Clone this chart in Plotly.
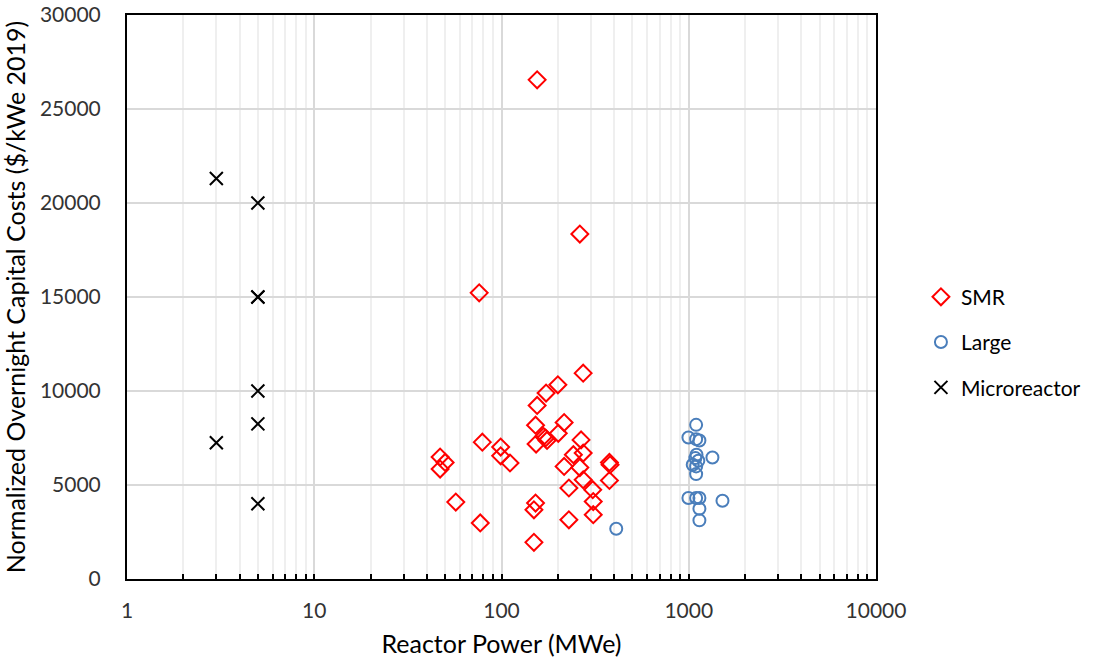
import plotly.graph_objects as go

# SMR data (MWe, $/kWe 2019)
smr_x = [155, 262, 76, 273, 200, 173, 155, 152, 216, 201, 168, 172, 175, 153,
         266, 242, 273, 216, 262, 273, 377, 380, 377, 229, 307, 309, 309, 229,
         152, 149, 149, 77, 57, 79, 99, 99, 111, 47, 50, 47]
smr_y = [26550, 18350, 15220, 10950, 10330, 9890, 9230, 8180, 8320, 7750, 7580,
         7500, 7370, 7180, 7400, 6610, 6700, 5990, 5930, 5280, 6200, 6080, 5240,
         4840, 4750, 4120, 3420, 3150, 4040, 3680, 1950, 2980, 4090, 7280, 7020,
         6550, 6170, 6490, 6200, 5850]

# Large reactors
large_x = [1095, 996, 1095, 1140, 1100, 1338, 1085, 1125, 1050, 1095, 1095,
           996, 1095, 1140, 1514, 1140, 1140, 410]
large_y = [8200, 7530, 7440, 7370, 6610, 6460, 6430, 6290, 6080, 5990, 5580,
           4310, 4310, 4310, 4160, 3740, 3120, 2670]

# Microreactors
micro_x = [3, 5, 5, 5, 5, 5, 3, 5]
micro_y = [21300, 20000, 15000, 15000, 10000, 8250, 7250, 4000]

x_ticks = [1, 10, 100, 1000, 10000]
y_ticks = [0, 5000, 10000, 15000, 20000, 25000, 30000]
minor_x = [m * 10 ** k for k in range(4) for m in range(2, 10)]

FONT = "Lato"
TICK_COLOR = "#333333"

fig = go.Figure()
fig.add_trace(go.Scatter(
    x=smr_x, y=smr_y, mode="markers", name="SMR", legendgroup="a",
    marker=dict(symbol="diamond-open", size=13, color="#ff0000",
                line=dict(width=2, color="#ff0000"))))
fig.add_trace(go.Scatter(
    x=large_x, y=large_y, mode="markers", name="Large", legendgroup="b",
    marker=dict(symbol="circle-open", size=12, color="#4a7ebb",
                line=dict(width=2, color="#4a7ebb"))))
fig.add_trace(go.Scatter(
    x=micro_x, y=micro_y, mode="markers", name="Microreactor", legendgroup="c",
    marker=dict(symbol="x-thin-open", size=13, color="#000000",
                line=dict(width=2, color="#000000"))))

fig.update_layout(
    width=1101, height=662,
    margin=dict(l=127, r=225, t=15, b=83),
    paper_bgcolor="white", plot_bgcolor="white",
    font=dict(family=FONT, color="#000000"),
    showlegend=True,
    legend=dict(x=1.06, y=0.42, xanchor="left", yanchor="middle",
                font=dict(family=FONT, size=21, color="#000000"),
                tracegroupgap=15, itemwidth=30,
                bgcolor="rgba(0,0,0,0)"),
    xaxis=dict(
        type="log", range=[0, 4], automargin=False,
        tickvals=x_ticks, ticktext=[str(v) for v in x_ticks],
        tickfont=dict(family=FONT, size=21, color=TICK_COLOR),
        ticklabelstandoff=12,
        showline=True, linecolor="#000000", linewidth=2, mirror=True,
        ticks="inside", ticklen=5, tickcolor="#000000", tickwidth=2,
        showgrid=True, gridcolor="#d9d9d9", gridwidth=1.5,
        minor=dict(tickmode="array", tickvals=minor_x,
                   ticks="inside", ticklen=5, tickcolor="#000000", tickwidth=2,
                   showgrid=True, gridcolor="#efefef", gridwidth=1.5),
        zeroline=False,
        title=dict(text="Reactor Power (MWe)", standoff=14,
                   font=dict(family=FONT, size=25, color="#000000")),
    ),
    yaxis=dict(
        range=[0, 30000], automargin=False,
        tickvals=y_ticks, ticktext=[str(v) for v in y_ticks],
        tickfont=dict(family=FONT, size=21, color=TICK_COLOR),
        ticklabelstandoff=20,
        showline=True, linecolor="#000000", linewidth=2, mirror=True,
        ticks="", showgrid=True, gridcolor="#d9d9d9", gridwidth=1.5,
        zeroline=False,
        title=dict(text="Normalized Overnight Capital Costs ($/kWe 2019)",
                   standoff=10,
                   font=dict(family=FONT, size=25, color="#000000")),
    ),
)

fig.write_html("out.html", config={"displayModeBar": False},
               post_script="document.body.style.margin='0px';")
